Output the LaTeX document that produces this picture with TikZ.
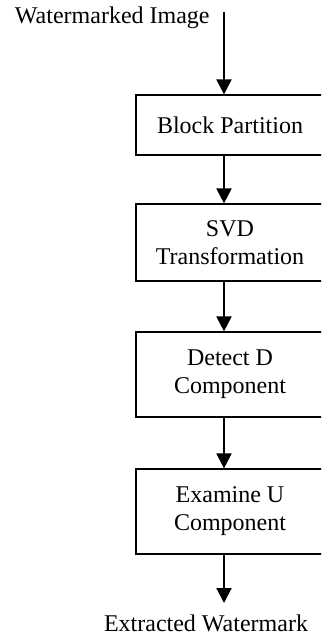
\documentclass[tikz,border=0pt]{standalone}
\usepackage{fontspec}
\setmainfont{Liberation Serif}
\usetikzlibrary{arrows.meta}

\begin{document}
\begin{tikzpicture}[x=0.5pt, y=-0.5pt, every text node part/.style={align=center},
    font={\fontsize{12pt}{14pt}\selectfont},
    stage/.style={draw, line width=0.6pt, minimum width=94pt, inner sep=0pt},
    flow/.style={line width=1pt, -{Triangle[width=7.5pt, length=7.5pt]}}]
            \useasboundingbox (0, 0) rectangle (321, 636);
            \clip (0, 0) rectangle (321, 636);
            \coordinate (axis) at (224, 0);
            \coordinate (start) at (224, 12);
            \coordinate (stop) at (224, 603);

            \node[inner sep=0pt, anchor=east] (input) at (210, 18) {Watermarked Image};
            \node[stage, minimum height=30pt] (block) at (230, 125) {Block Partition};
            \node[stage, minimum height=38.5pt] (svd) at (230, 242.5) {SVD\\Transformation};
            \node[stage, minimum height=42.5pt] (detect) at (230, 374.5) {Detect D\\Component};
            \node[stage, minimum height=42.5pt] (examine) at (230, 511.5) {Examine U\\Component};
            \node[inner sep=0pt] (output) at (206, 623) {Extracted Watermark};

            \draw[flow] (start) -- (block.north -| axis);
            \draw[flow] (block.south -| axis) -- (svd.north -| axis);
            \draw[flow] (svd.south -| axis) -- (detect.north -| axis);
            \draw[flow] (detect.south -| axis) -- (examine.north -| axis);
            \draw[flow] (examine.south -| axis) -- (stop);
        \end{tikzpicture}
\end{document}
